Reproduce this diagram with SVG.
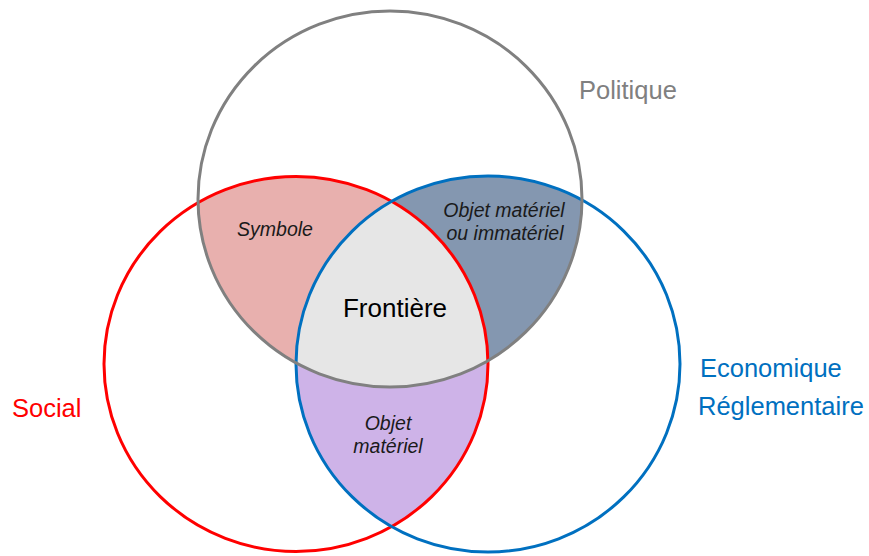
<svg xmlns="http://www.w3.org/2000/svg" width="869" height="556" viewBox="0 0 869 556">
  <style>
    .ring { fill: none; stroke-width: 3; }
    .lbl { font-family: "Liberation Sans", Arial, sans-serif; font-size: 25.5px; }
    .reg { font-family: "Liberation Sans", Arial, sans-serif; font-size: 19.5px; font-style: italic; fill: #1a1a1a; text-anchor: middle; }
  </style>
  <defs>
    <ellipse id="eGray" cx="390" cy="199" rx="192" ry="188"/>
    <ellipse id="eRed" cx="296" cy="364" rx="192" ry="187.5"/>
    <ellipse id="eBlue" cx="488" cy="364" rx="192" ry="188"/>
    <clipPath id="cGray"><use href="#eGray"/></clipPath>
    <clipPath id="cBlue"><use href="#eBlue"/></clipPath>
    <clipPath id="cRed"><use href="#eRed"/></clipPath>
  </defs>
  <rect width="869" height="556" fill="#ffffff"/>

  <g id="regions">
    <use href="#eRed" fill="#E8B0AE" clip-path="url(#cGray)"/>
    <use href="#eBlue" fill="#8497B0" clip-path="url(#cGray)"/>
    <use href="#eRed" fill="#CEB3E8" clip-path="url(#cBlue)"/>
    <g clip-path="url(#cGray)">
      <use href="#eRed" fill="#E6E6E6" clip-path="url(#cBlue)"/>
    </g>
  </g>

  <g id="social">
    <use href="#eRed" class="ring" stroke="#FF0000"/>
    <text class="lbl" x="12" y="417" fill="#FF0000">Social</text>
  </g>
  <g id="economique">
    <use href="#eBlue" class="ring" stroke="#0070C0"/>
    <text class="lbl" x="700" y="377" fill="#0070C0">Economique</text>
    <text class="lbl" x="698" y="415" fill="#0070C0">Réglementaire</text>
  </g>
  <g id="politique">
    <use href="#eGray" class="ring" stroke="#808080"/>
    <text class="lbl" x="579" y="99" fill="#808080">Politique</text>
  </g>

  <g id="symbole">
    <text class="reg" x="275" y="236">Symbole</text>
  </g>
  <g id="objet-materiel-immateriel">
    <text class="reg" x="504" y="217">Objet matériel</text>
    <text class="reg" x="505" y="240">ou immatériel</text>
  </g>
  <g id="objet-materiel">
    <text class="reg" x="388" y="430">Objet</text>
    <text class="reg" x="388" y="453">matériel</text>
  </g>
  <g id="frontiere">
    <text x="395" y="317" text-anchor="middle" font-family="'Liberation Sans', Arial, sans-serif" font-size="26" fill="#000000">Frontière</text>
  </g>
</svg>
